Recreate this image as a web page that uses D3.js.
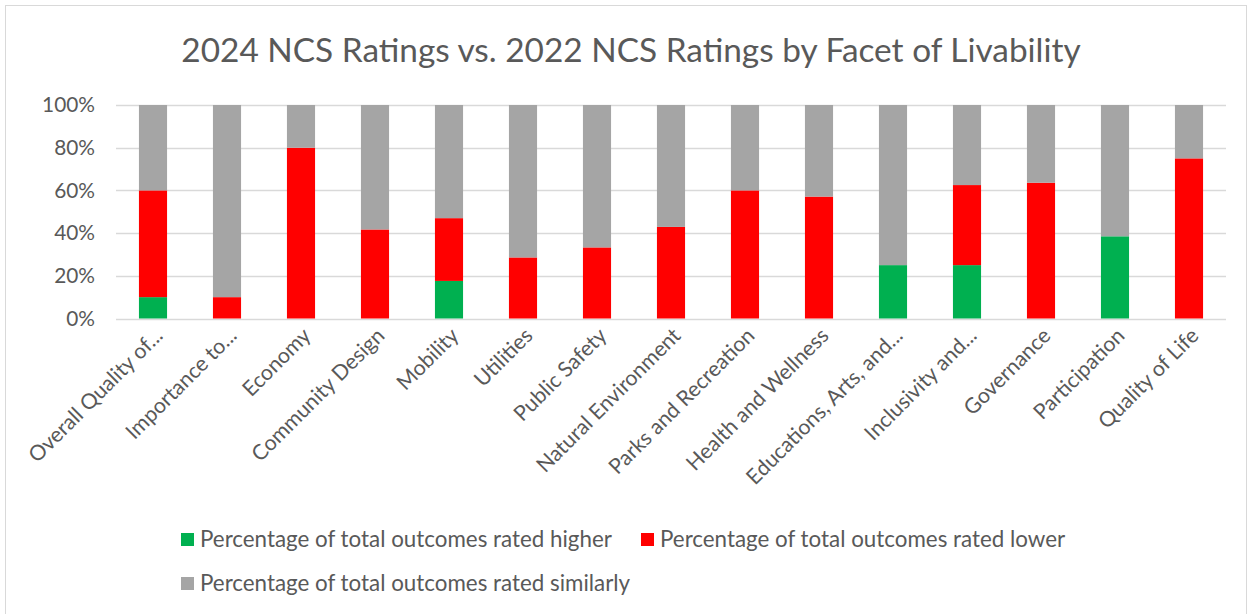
<!DOCTYPE html>
<html>
<head>
<meta charset="utf-8">
<script src="https://cdn.jsdelivr.net/npm/d3@7"></script>
<style>
  body { margin: 0; background: #fff; }
  svg { display: block; font-family: Lato, "Open Sans", sans-serif; }
</style>
</head>
<body>
<div id="chart"></div>
<script>
// data
var categories = ["Overall Quality of...", "Importance to...", "Economy", "Community Design", "Mobility",
  "Utilities", "Public Safety", "Natural Environment", "Parks and Recreation", "Health and Wellness",
  "Educations, Arts, and...", "Inclusivity and...", "Governance", "Participation", "Quality of Life"];
var higher  = [0.10, 0, 0, 0, 0.176, 0, 0, 0, 0, 0, 0.25, 0.25, 0, 0.385, 0];
var lower   = [0.50, 0.10, 0.80, 0.417, 0.294, 0.286, 0.333, 0.429, 0.60, 0.571, 0, 0.375, 0.636, 0, 0.75];
var similar = categories.map(function(c, i) { return 1 - higher[i] - lower[i]; });
var seriesNames = ["Percentage of total outcomes rated higher", "Percentage of total outcomes rated lower",
  "Percentage of total outcomes rated similarly"];
var colors = ["#00b050", "#ff0000", "#a5a5a5"];
var yTicks = [0, 0.2, 0.4, 0.6, 0.8, 1];

var W = 1253, H = 614;
var margin = { top: 105, right: 27, bottom: 296, left: 116 };

var svg = d3.select("#chart").append("svg")
  .attr("width", W)
  .attr("height", H);

// pick a font size so a sample string gets the width seen in the picture
function fitSize(str, target) {
  var t = svg.append("text").attr("font-size", 20).text(str);
  var w = t.node().getComputedTextLength();
  t.remove();
  return 20 * target / w;
}
var titleSize = fitSize("2024 NCS Ratings vs. 2022 NCS Ratings by Facet of Livability", 900);
var legendSize = fitSize(seriesNames[0], 412);
var catSize = fitSize("Community Design", 178);
var tickSize = fitSize("100%", 53);

// chart frame
svg.append("rect")
  .attr("x", 5.5).attr("y", 5.5)
  .attr("width", 1241).attr("height", 640)
  .attr("fill", "#fff")
  .attr("stroke", "#d9d9d9");

svg.append("text")
  .attr("x", 631).attr("y", 62)
  .attr("text-anchor", "middle")
  .attr("font-size", titleSize)
  .attr("fill", "#595959")
  .text("2024 NCS Ratings vs. 2022 NCS Ratings by Facet of Livability");

var x = d3.scaleBand()
  .domain(categories)
  .range([margin.left, W - margin.right])
  .paddingInner(0.62)
  .paddingOuter(0.31);

var y = d3.scaleLinear()
  .domain([0, 1])
  .range([H - margin.bottom + 0.5, margin.top]);

// gridlines
svg.append("g").selectAll("line")
  .data(yTicks)
  .enter().append("line")
  .attr("x1", margin.left).attr("x2", W - margin.right)
  .attr("y1", function(d) { return Math.round(y(d)) + 0.5; })
  .attr("y2", function(d) { return Math.round(y(d)) + 0.5; })
  .attr("stroke", "#d9d9d9")
  .attr("stroke-width", 1.5);

// y labels
var yAxis = d3.axisLeft(y).tickValues(yTicks).tickFormat(d3.format(".0%")).tickSize(0).tickPadding(21);
var yg = svg.append("g").attr("transform", "translate(" + margin.left + ",0)").call(yAxis);
yg.attr("font-family", null).attr("font-size", null);
yg.select(".domain").remove();
yg.selectAll("text").attr("font-size", tickSize).attr("fill", "#595959");

// stacked bars
var table = categories.map(function(c, i) {
  return { cat: c, higher: higher[i], lower: lower[i], similar: similar[i] };
});
var stack = d3.stack().keys(["higher", "lower", "similar"]);
var layers = stack(table);

svg.append("g").selectAll("g")
  .data(layers)
  .enter().append("g")
  .attr("fill", function(d, i) { return colors[i]; })
  .selectAll("rect")
  .data(function(d) { return d; })
  .enter().append("rect")
  .attr("x", function(d) { return x(d.data.cat); })
  .attr("width", x.bandwidth())
  .attr("y", function(d) { return y(d[1]); })
  .attr("height", function(d) { return Math.max(0, y(d[0]) - y(d[1])); });

// x labels, rotated
var xAxis = d3.axisBottom(x).tickSize(0).tickPadding(0);
var xg = svg.append("g").attr("transform", "translate(0," + (H - margin.bottom) + ")").call(xAxis);
xg.attr("font-family", null).attr("font-size", null);
xg.select(".domain").remove();
xg.selectAll("text")
  .attr("font-size", catSize)
  .attr("fill", "#595959")
  .attr("text-anchor", "end")
  .attr("dy", 0)
  .attr("y", 0)
  .attr("transform", "translate(11,19) rotate(-45)");

// legend
var legendPos = [[181, 540], [641, 540], [181, 584]];
var lg = svg.append("g").selectAll("g")
  .data(seriesNames)
  .enter().append("g")
  .attr("transform", function(d, i) { return "translate(" + legendPos[i][0] + "," + legendPos[i][1] + ")"; });
lg.append("rect")
  .attr("x", 0).attr("y", -7)
  .attr("width", 13).attr("height", 13)
  .attr("fill", function(d, i) { return colors[i]; });
lg.append("text")
  .attr("x", 19).attr("y", 7)
  .attr("font-size", legendSize)
  .attr("fill", "#595959")
  .text(function(d) { return d; });
</script>
</body>
</html>
